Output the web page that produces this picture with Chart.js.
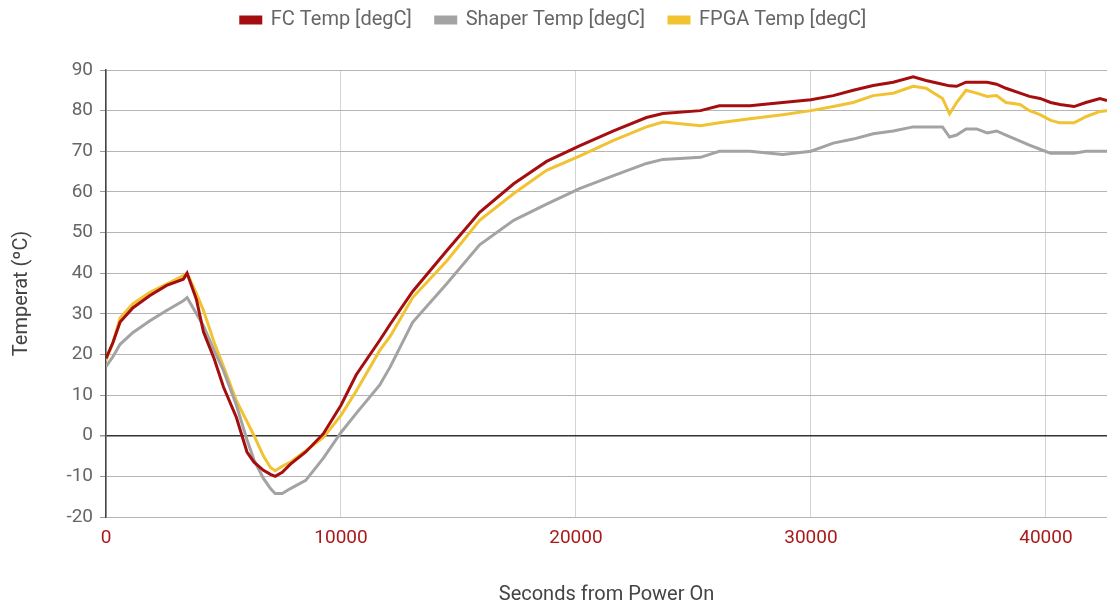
<!DOCTYPE html>
<html>
<head>
<meta charset="utf-8">
<script src="https://cdn.jsdelivr.net/npm/chart.js@4"></script>
<style>
  html, body { margin: 0; padding: 0; background: #fff; }
  #wrap { width: 1107px; height: 602px; }
</style>
</head>
<body>
<div id="wrap"><canvas id="tempChart"></canvas></div>
<script>
// seconds from power on
const times = [0, 300, 600, 1150, 1870, 2580, 3290, 3450, 3850, 4150, 4600, 5000, 5550, 6000, 6300, 6700, 7000, 7200, 7500, 7850,
  8500, 9250, 10000, 10650, 11650, 12100, 13050, 14500, 15900, 17350, 18750, 20150, 21600, 23000, 23700, 25300, 26100, 27400,
  28800, 30000, 30950, 31800, 32650, 33500, 34350, 34900, 35600, 35900, 36200, 36600, 37050, 37500, 37900, 38300, 38900,
  39300, 39750, 40200, 40600, 41200, 41700, 42300, 42600];

const fcTemp = [19, 23, 28, 31.5, 34.5, 37, 38.5, 40, 33.5, 25.5, 19, 12, 4.5, -4, -6.5, -8.5, -9.5, -10, -9, -7,
  -4, 0.5, 7.5, 15, 23.5, 27.5, 35.5, 45.5, 55, 62, 67.5, 71.3, 75, 78.3, 79.3, 80, 81.2, 81.2,
  82, 82.7, 83.7, 85, 86.2, 87, 88.3, 87.4, 86.5, 86.1, 86, 87, 87, 87, 86.5, 85.5, 84.3,
  83.5, 83, 82, 81.5, 81, 82, 83, 82.5];

const shaperTemp = [17, 19.5, 22.5, 25.4, 28.3, 30.8, 33.2, 34, 30, 27, 21, 16, 7.5, -1, -6, -10.5, -13, -14.2, -14.2, -13,
  -11, -5.5, 0.8, 5.5, 12.5, 17, 27.9, 37.4, 47, 53, 57, 60.8, 64, 67, 68, 68.5, 70, 70,
  69.2, 70, 72, 73, 74.3, 75, 76, 76, 76, 73.5, 74, 75.5, 75.5, 74.5, 75, 74, 72.5,
  71.5, 70.5, 69.5, 69.5, 69.5, 70, 70, 70];

const fpgaTemp = [18.5, 23, 29, 32.5, 35.3, 37.3, 39.4, 40, 35, 30.8, 23, 17, 8.6, 3.5, 0, -5, -7.8, -8.6, -7.5, -6.5,
  -3.7, -0.4, 5, 11, 21, 24.5, 34, 43, 53, 59.6, 65.3, 68.8, 72.7, 76, 77.2, 76.3, 77, 78,
  79, 80, 81, 82, 83.7, 84.3, 86, 85.5, 83, 79.2, 82, 85, 84.3, 83.5, 83.7, 82, 81.5,
  80, 79, 77.6, 77, 77, 78.5, 79.8, 80];

const seriesNames = ['FC Temp [degC]', 'Shaper Temp [degC]', 'FPGA Temp [degC]'];
const seriesColors = ['#a50e0e', '#a3a3a3', '#f1c232'];
const xTicks = [0, 10000, 20000, 30000, 40000];
const yTicks = [-20, -10, 0, 10, 20, 30, 40, 50, 60, 70, 80, 90];

function toPoints(values) {
  return times.map(function (t, i) { return { x: t, y: values[i] }; });
}

// give the legend a fixed height so the plot starts lower
const legendSpace = {
  id: 'legendSpace',
  beforeInit: function (chart) {
    const fit = chart.legend.fit;
    chart.legend.fit = function () {
      fit.bind(chart.legend)();
      this.height = 84;
    };
  }
};

const ctx = document.getElementById('tempChart').getContext('2d');
const tempChart = new Chart(ctx, {
  type: 'line',
  data: {
    datasets: [fcTemp, shaperTemp, fpgaTemp].map(function (vals, i) {
      return {
        label: seriesNames[i],
        data: toPoints(vals),
        borderColor: seriesColors[i],
        backgroundColor: seriesColors[i],
        borderWidth: 3,
        pointRadius: 0,
        tension: 0
      };
    })
  },
  plugins: [legendSpace],
  options: {
    responsive: true,
    maintainAspectRatio: false,
    animation: false,
    layout: { padding: { top: -14, right: 0, left: 0, bottom: 0 } },
    plugins: {
      legend: {
        position: 'top',
        labels: {
          boxWidth: 20,
          boxHeight: 6,
          padding: 24,
          color: '#666',
          font: { family: 'Roboto', size: 20 }
        }
      },
      tooltip: { enabled: false }
    },
    scales: {
      x: {
        type: 'linear',
        min: 0,
        max: 42600,
        afterBuildTicks: function (axis) {
          axis.ticks = xTicks.map(function (v) { return { value: v }; });
        },
        afterFit: function (axis) { axis.height = 85; },
        grid: {
          color: '#d4d4d4',
          drawTicks: false
        },
        border: { display: false },
        ticks: {
          padding: 10,
          maxRotation: 0,
          color: '#a91b1b',
          font: { family: 'Roboto', size: 19 },
          callback: function (v) { return String(v); }
        },
        title: {
          display: true,
          text: 'Seconds from Power On',
          color: '#444',
          font: { family: 'Roboto', size: 20 },
          padding: { top: 0, bottom: -5 }
        }
      },
      y: {
        min: -20,
        max: 90,
        afterBuildTicks: function (axis) {
          axis.ticks = yTicks.map(function (v) { return { value: v }; });
        },
        afterFit: function (axis) { axis.width = 106; },
        grid: {
          color: function (c) { return c.tick && c.tick.value === 0 ? '#333' : '#b5b5b5'; },
          lineWidth: function (c) { return c.tick && c.tick.value === 0 ? 1.5 : 1; },
          tickLength: 6,
          tickColor: '#999'
        },
        border: { color: '#444', width: 1.5 },
        ticks: {
          padding: 7,
          color: '#666',
          font: { family: 'Roboto', size: 19 }
        },
        title: {
          display: true,
          text: 'Temperat (ºC)',
          color: '#444',
          font: { family: 'Roboto', size: 20 },
          padding: { top: 10, bottom: 0 }
        }
      }
    }
  }
});
</script>
</body>
</html>
